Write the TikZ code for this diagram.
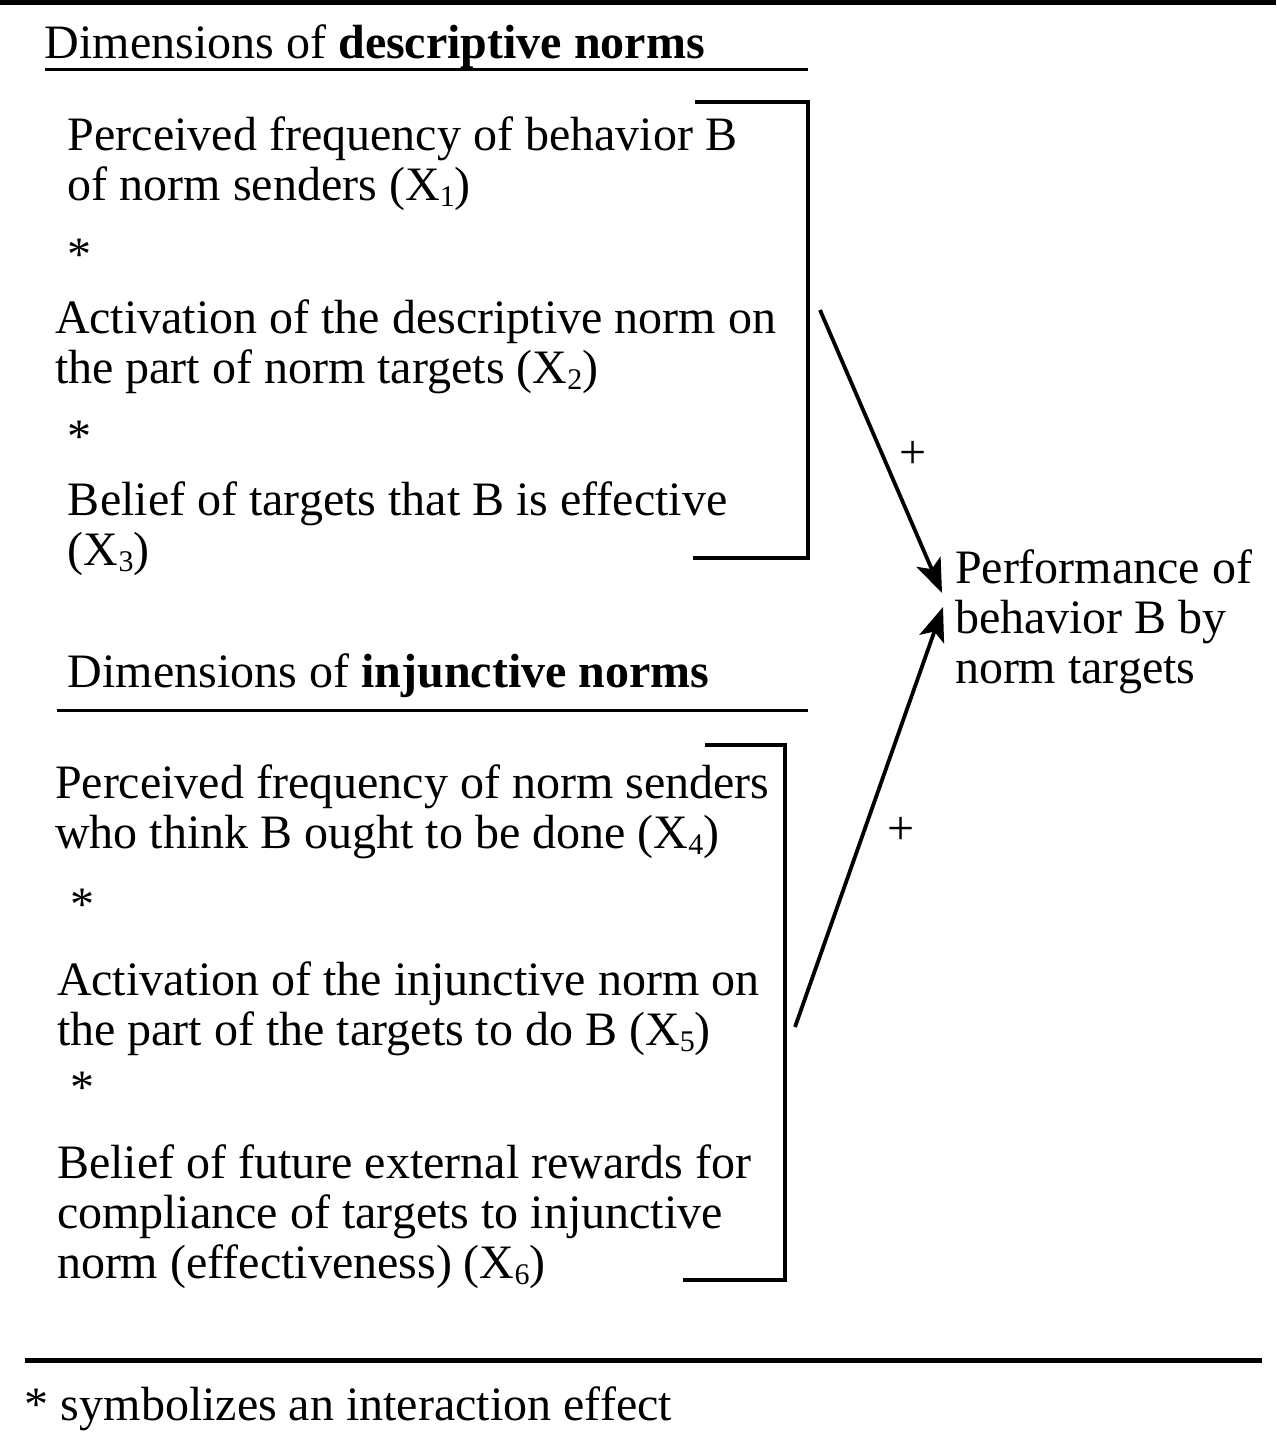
\documentclass[tikz,border=0pt]{standalone}
\usepackage{fontspec}
\setmainfont{Liberation Serif}
\usetikzlibrary{arrows.meta}
\newcommand{\sbx}[1]{\raisebox{-0.28ex}{\fontsize{15}{15}\selectfont #1}}
\begin{document}
\begin{tikzpicture}[x=0.5pt,y=-0.5pt,
  txt/.style={anchor=base west,inner sep=0pt,outer sep=0pt,font=\fontsize{24}{25}\selectfont},
  rule/.style={line width=2.5pt},
  uline/.style={line width=1.5pt},
  brack/.style={line width=1.6pt},
  arr/.style={line width=1.9pt,-{Stealth[length=17pt,width=13pt,inset=4pt]}}]
\useasboundingbox (0,0) rectangle (1276,1442);
% rules
\coordinate (t1) at (0,2); \coordinate (t2) at (1276,2);
\draw[rule] (t1) -- (t2);
\coordinate (b1) at (25,1360); \coordinate (b2) at (1262,1360);
\draw[rule] (b1) -- (b2);
% descriptive heading
\node[txt] (h1) at (45,58) {Dimensions of \textbf{descriptive norms}};
\coordinate (u1a) at (45,69); \coordinate (u1b) at (808,69);
\draw[uline] (u1a) -- (u1b);
% descriptive items
\node[txt] (d1a) at (68,150) {Perceived frequency of behavior B};
\node[txt] (d1b) at (68,200) {of norm senders (X\sbx{1})};
\node[txt] (s1) at (68,270) {*};
\node[txt] (d2a) at (55,333) {Activation of the descriptive norm on};
\node[txt] (d2b) at (55,383) {the part of norm targets (X\sbx{2})};
\node[txt] (s2) at (68,452) {*};
\node[txt] (d3a) at (68,515) {Belief of targets that B is effective};
\node[txt] (d3b) at (68,565) {(X\sbx{3})};
% bracket 1
\coordinate (k1a) at (695,102); \coordinate (k1b) at (808,102);
\coordinate (k1c) at (808,558); \coordinate (k1d) at (693,558);
\draw[brack] (k1a) -- (k1b) -- (k1c) -- (k1d);
% injunctive heading
\node[txt] (h2) at (68,687) {Dimensions of \textbf{injunctive norms}};
\coordinate (u2a) at (57,710); \coordinate (u2b) at (808,710);
\draw[uline] (u2a) -- (u2b);
% injunctive items
\node[txt] (i1a) at (55,798) {Perceived frequency of norm senders};
\node[txt] (i1b) at (55,848) {who think B ought to be done (X\sbx{4})};
\node[txt] (s3) at (70,920) {*};
\node[txt] (i2a) at (57,995) {Activation of the injunctive norm on};
\node[txt] (i2b) at (57,1045) {the part of the targets to do B (X\sbx{5})};
\node[txt] (s4) at (70,1103) {*};
\node[txt] (i3a) at (57,1178) {Belief of future external rewards for};
\node[txt] (i3b) at (57,1228) {compliance of targets to injunctive};
\node[txt] (i3c) at (57,1278) {norm (effectiveness) (X\sbx{6})};
% bracket 2
\coordinate (k2a) at (705,745); \coordinate (k2b) at (785,745);
\coordinate (k2c) at (785,1280); \coordinate (k2d) at (683,1280);
\draw[brack] (k2a) -- (k2b) -- (k2c) -- (k2d);
% outcome
\node[txt] (p1) at (955,583) {Performance of};
\node[txt] (p2) at (955,633) {behavior B by};
\node[txt] (p3) at (955,683) {norm targets};
% arrows
\coordinate (a1s) at (820,310); \coordinate (a1e) at (942,593);
\coordinate (a2s) at (795,1027); \coordinate (a2e) at (943,607);
\draw[arr] (a1s) -- (a1e);
\draw[arr] (a2s) -- (a2e);
\node[txt] (plus1) at (899,468) {+};
\node[txt] (plus2) at (887,844) {+};
% footnote
\node[txt] (fn) at (25,1420) {* symbolizes an interaction effect};
\end{tikzpicture}
\end{document}
